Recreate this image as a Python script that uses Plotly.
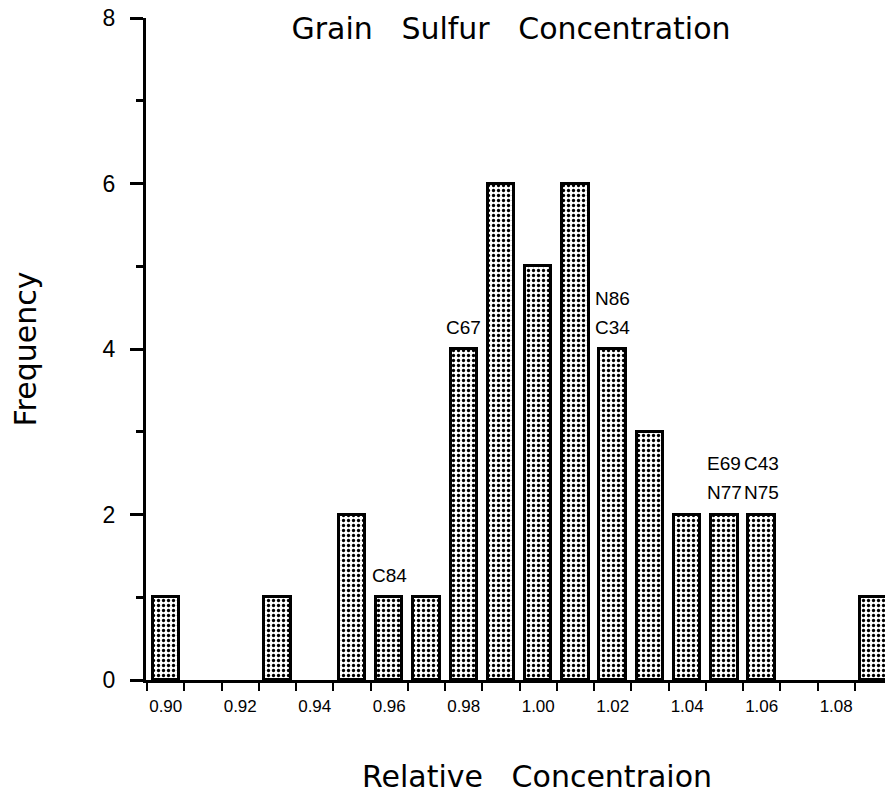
import plotly.graph_objects as go

# ---------------- data ----------------
bin_starts = [0.90, 0.91, 0.92, 0.93, 0.94, 0.95, 0.96, 0.97, 0.98, 0.99,
              1.00, 1.01, 1.02, 1.03, 1.04, 1.05, 1.06, 1.07, 1.08, 1.09]
frequency = [1, 0, 0, 1, 0, 2, 1, 1, 4, 6,
             5, 6, 4, 3, 2, 2, 2, 0, 0, 1]
bin_width = 0.01

tick_label_bins = [0.90, 0.92, 0.94, 0.96, 0.98, 1.00, 1.02, 1.04, 1.06, 1.08]
tick_label_text = ["0.90", "0.92", "0.94", "0.96", "0.98",
                   "1.00", "1.02", "1.04", "1.06", "1.08"]

y_tick_values = [0, 2, 4, 6, 8]

note_bins = [0.96, 0.98, 1.02, 1.05, 1.06]
note_lower = ["C84", "C67", "C34", "N77", "N75"]
note_upper = ["", "", "N86", "E69", "C43"]

title_text = "Grain\u00a0\u00a0\u00a0Sulfur\u00a0\u00a0\u00a0Concentration"
x_title_text = "Relative\u00a0\u00a0\u00a0Concentraion"
y_title_text = "Frequency"

# ---------------- figure ----------------
BIG = "DejaVu Sans"
SMALL = "Liberation Sans"
half = bin_width / 2
centers = [round(b + half, 4) for b in bin_starts]
bar_x = [c for c, f in zip(centers, frequency) if f > 0]
bar_y = [f for f in frequency if f > 0]

fig = go.Figure()
fig.add_trace(go.Bar(
    x=bar_x, y=bar_y, width=0.0071,
    marker=dict(
        color="white",
        line=dict(color="black", width=3),
        pattern=dict(shape=".", fgcolor="black", bgcolor="white",
                     size=5, solidity=0.34, fillmode="replace"),
    ),
    showlegend=False, hoverinfo="x+y",
))

freq_by_bin = {round(b, 2): f for b, f in zip(bin_starts, frequency)}
annotations = []
for b, lo, up in zip(note_bins, note_lower, note_upper):
    xc = round(b + half, 4)
    yv = freq_by_bin[round(b, 2)]
    if lo:
        annotations.append(dict(x=xc, y=yv, text=lo, showarrow=False,
                                yanchor="middle", yshift=22,
                                font=dict(family=SMALL, size=19, color="black")))
    if up:
        annotations.append(dict(x=xc, y=yv, text=up, showarrow=False,
                                yanchor="middle", yshift=51,
                                font=dict(family=SMALL, size=19, color="black")))

annotations.append(dict(
    xref="paper", yref="paper", x=(537 - 146) / 739, y=(680 - 776) / 662,
    text=x_title_text, showarrow=False, xanchor="center", yanchor="middle",
    font=dict(family=BIG, size=30, color="black")))

edges = [round(b, 2) for b in bin_starts]

fig.update_layout(
    width=885, height=798,
    margin=dict(l=146, r=0, t=18, b=118),
    paper_bgcolor="white", plot_bgcolor="white",
    font=dict(family=BIG, color="black"),
    title=dict(text=title_text, x=511 / 885, xanchor="center", xref="container",
               y=1 - 28 / 798, yanchor="middle", yref="container",
               font=dict(family=BIG, size=30, color="black")),
    xaxis=dict(
        range=[0.8997, 1.0981], showgrid=False, zeroline=False,
        showline=True, linecolor="black", linewidth=2.5,
        tickmode="array", tickvals=[round(b + half, 4) for b in tick_label_bins],
        ticktext=tick_label_text, ticks="",
        tickfont=dict(family=SMALL, size=17, color="black"),
        ticklabelstandoff=9,
        minor=dict(tickmode="array", tickvals=edges, ticks="outside",
                   ticklen=8, tickwidth=2, tickcolor="black", showgrid=False),
    ),
    yaxis=dict(
        range=[0, 8], showgrid=False, zeroline=False,
        showline=True, linecolor="black", linewidth=3,
        tickmode="array", tickvals=y_tick_values,
        ticks="outside", ticklen=13, tickwidth=2.5, tickcolor="black",
        tickfont=dict(family=SMALL, size=23, color="black"),
        ticklabelstandoff=10,
        minor=dict(tick0=0, dtick=1, ticks="outside", ticklen=7,
                   tickwidth=2.5, tickcolor="black", showgrid=False),
        title=dict(text=y_title_text, standoff=58,
                   font=dict(family=BIG, size=30, color="black")),
    ),
    annotations=annotations,
    bargap=0,
)

fig.write_html("out.html")
